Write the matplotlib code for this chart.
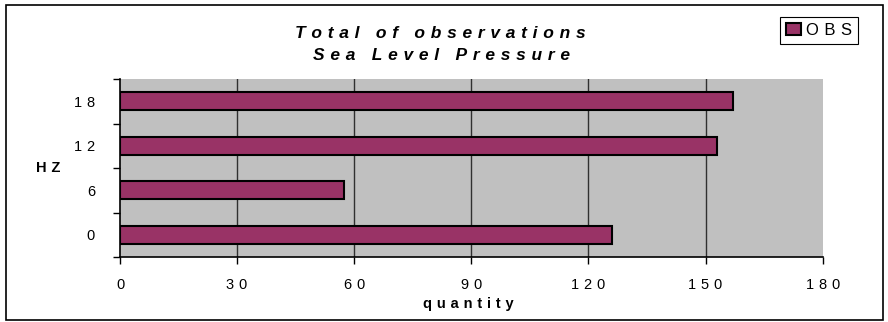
import matplotlib.pyplot as plt
import matplotlib
from matplotlib.patches import Rectangle

matplotlib.rcParams['font.family'] = ['Liberation Sans', 'DejaVu Sans']

# observations per synoptic hour
hours = ["0", "6", "12", "18"]
obs = [126, 57.5, 153, 157]
xticks = [0, 30, 60, 90, 120, 150, 180]

title_lines = ["Total of observations", "Sea Level Pressure"]
series_name = "OBS"
x_label = "quantity"
y_label = "HZ"


def spaced(s):
    # old-style wide letter spacing
    return '\u2004 \u2004'.join('\u2004'.join(w) for w in s.split(' '))


if __name__ == '__main__':
    fig = plt.figure(figsize=(8.88, 3.22), dpi=100)
    W, H = 888, 322
    ax = fig.add_axes([120 / W, 1 - 257 / H, 702.7 / W, 178 / H])
    ax.set_facecolor('#c0c0c0')

    pos = list(range(len(hours)))
    ax.barh(pos, obs, height=0.4, color='#993366', edgecolor='black',
            linewidth=1.5, label=spaced(series_name), zorder=3)

    for xv in xticks[1:-1]:
        ax.axvline(xv, color='#303030', linewidth=1, zorder=1)

    ax.set_xlim(0, 180)
    ax.set_ylim(-0.5, len(hours) - 0.5)

    ax.set_xticks(xticks)
    ax.set_xticklabels([spaced(str(v)) for v in xticks], fontsize=10.5)
    ax.tick_params(axis='x', direction='out', length=5, width=1, pad=10)

    ax.set_yticks(pos)
    ax.set_yticklabels([spaced(h) for h in hours], fontsize=10.5)
    ax.set_yticks([p - 0.5 for p in pos] + [len(hours) - 0.5], minor=True)
    ax.tick_params(axis='y', which='major', length=0, pad=18)
    ax.tick_params(axis='y', which='minor', direction='out', length=5, width=1)

    for s in ['top', 'right']:
        ax.spines[s].set_visible(False)
    ax.spines['left'].set_linewidth(1.2)
    ax.spines['bottom'].set_linewidth(1.2)

    fig.text(440 / W, 1 - 33 / H, spaced(title_lines[0]), ha='center', va='center',
             fontsize=12.5, fontweight='bold', fontstyle='italic')
    fig.text(441 / W, 1 - 55 / H, spaced(title_lines[1]), ha='center', va='center',
             fontsize=12.5, fontweight='bold', fontstyle='italic')

    fig.text(468 / W, 1 - 304 / H, spaced(x_label), ha='center', va='center',
             fontsize=10.5, fontweight='bold')
    fig.text(48 / W, 1 - 168 / H, spaced(y_label), ha='center', va='center',
             fontsize=10.5, fontweight='bold')

    leg = fig.legend(loc='upper right', bbox_to_anchor=(858 / W, 1 - 17 / H),
                     fontsize=12, frameon=True, fancybox=False, framealpha=1,
                     edgecolor='black', handlelength=0.9, handleheight=0.75,
                     handletextpad=0.3, borderpad=0.35, borderaxespad=0)
    leg.get_frame().set_linewidth(0.8)

    fig.patches.append(Rectangle((6 / W, 2 / H), 877 / W, 315 / H, transform=fig.transFigure,
                                 fill=False, edgecolor='black', linewidth=1.2))

    plt.savefig('out.png', dpi=100)
